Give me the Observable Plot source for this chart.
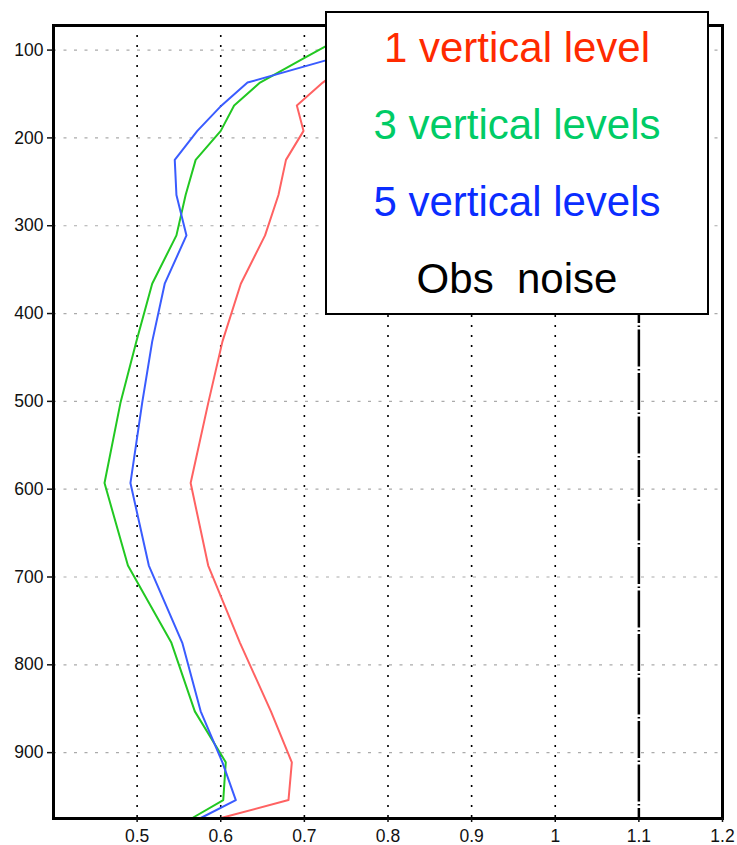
<!DOCTYPE html>
<html>
<head>
<meta charset="utf-8">
<script src="https://cdn.jsdelivr.net/npm/d3@7"></script>
<script src="https://cdn.jsdelivr.net/npm/@observablehq/plot@0.6"></script>
<style>
  body { margin: 0; background: #fff; }
  #chart { position: relative; width: 737px; height: 845px; overflow: hidden; }
  #legend { position: absolute; left: 325px; top: 11px; }
</style>
</head>
<body>
<div id="chart"></div>
<script>
// Pressure levels (hPa), bottom to top
const levels = [975, 954, 911, 853, 775, 687, 593, 502, 432, 366, 311, 265, 225, 192, 163, 137, 110, 85];

// Error profiles for each configuration
const oneLevel    = [0.598, 0.681, 0.685, 0.660, 0.623, 0.585, 0.564, 0.585, 0.602, 0.624, 0.653, 0.669, 0.678, 0.699, 0.691, 0.722, 0.760, 0.800];
const threeLevels = [0.565, 0.603, 0.606, 0.569, 0.541, 0.489, 0.461, 0.480, 0.499, 0.518, 0.547, 0.558, 0.570, 0.600, 0.616, 0.647, 0.698, 0.746];
const fiveLevels  = [0.575, 0.618, 0.602, 0.576, 0.554, 0.514, 0.492, 0.506, 0.518, 0.533, 0.559, 0.547, 0.545, 0.572, 0.601, 0.632, 0.732, 0.800];

// Observation noise reference value
const obsNoise = 1.1;

// Series names, line colours and legend text colours
const seriesNames  = ["1 vertical level", "3 vertical levels", "5 vertical levels"];
const seriesValues = [oneLevel, threeLevels, fiveLevels];
const lineColors   = ["#ff6262", "#22c822", "#3a5cff"];
const textColors   = ["#ff2a00", "#00cc66", "#0a2dff"];

// Axis ticks
const xTicks = [0.5, 0.6, 0.7, 0.8, 0.9, 1.0, 1.1, 1.2];
const xGrid  = [0.5, 0.6, 0.7, 0.8, 0.9, 1.0];
const yTicks = [100, 200, 300, 400, 500, 600, 700, 800, 900];

const profileLines = seriesNames.map((name, i) => {
  const rows = levels.map((lev, j) => ({series: name, level: lev, value: seriesValues[i][j]}));
  return Plot.line(rows, {x: "value", y: "level", stroke: lineColors[i], strokeWidth: 2});
});

const chart = Plot.plot({
  width: 737,
  height: 845,
  marginLeft: 53,
  marginRight: 15,
  marginTop: 25,
  marginBottom: 27,
  style: {
    fontFamily: "'Liberation Sans', Arial, Helvetica, sans-serif",
    fontSize: "17.5px",
    color: "#111",
    background: "#fff"
  },
  x: {domain: [0.4, 1.2]},
  y: {domain: [975, 72]},
  marks: [
    Plot.gridY(yTicks, {stroke: "#aaa", strokeOpacity: 1, strokeWidth: 1.2, strokeDasharray: "3,7.5"}),
    Plot.gridX(xGrid, {stroke: "#000", strokeOpacity: 1, strokeWidth: 1.6, strokeDasharray: "2,8"}),
    Plot.ruleX([obsNoise], {stroke: "#000", strokeWidth: 2.5, strokeDasharray: "37,2.5,1.5,2.5"}),
    ...profileLines,
    Plot.frame({stroke: "#000", strokeWidth: 3}),
    Plot.axisX(xTicks, {tickSize: 4, tickPadding: 7, tickFormat: "~g", label: null, strokeWidth: 1.5}),
    Plot.axisY(yTicks, {tickSize: 6, tickPadding: 4, label: null, strokeWidth: 1.5})
  ]
});

const container = document.getElementById("chart");
container.appendChild(chart);

// Legend box laid over the upper right of the chart
const legendW = 384, legendH = 304;
const legendLabels = [...seriesNames, "Obs  noise"];
const legendColors = [...textColors, "#000"];
const legend = d3.select(container).append("svg")
  .attr("id", "legend")
  .attr("width", legendW)
  .attr("height", legendH);
legend.append("rect")
  .attr("x", 1).attr("y", 1)
  .attr("width", legendW - 2).attr("height", legendH - 2)
  .attr("fill", "#fff").attr("stroke", "#000").attr("stroke-width", 2);
legend.selectAll("text")
  .data(legendLabels)
  .join("text")
  .attr("x", legendW / 2)
  .attr("y", (d, i) => 51 + i * 77)
  .attr("text-anchor", "middle")
  .attr("fill", (d, i) => legendColors[i])
  .style("font-family", "'Liberation Sans', Arial, Helvetica, sans-serif")
  .style("font-size", "42px")
  .style("white-space", "pre")
  .text(d => d);
</script>
</body>
</html>
